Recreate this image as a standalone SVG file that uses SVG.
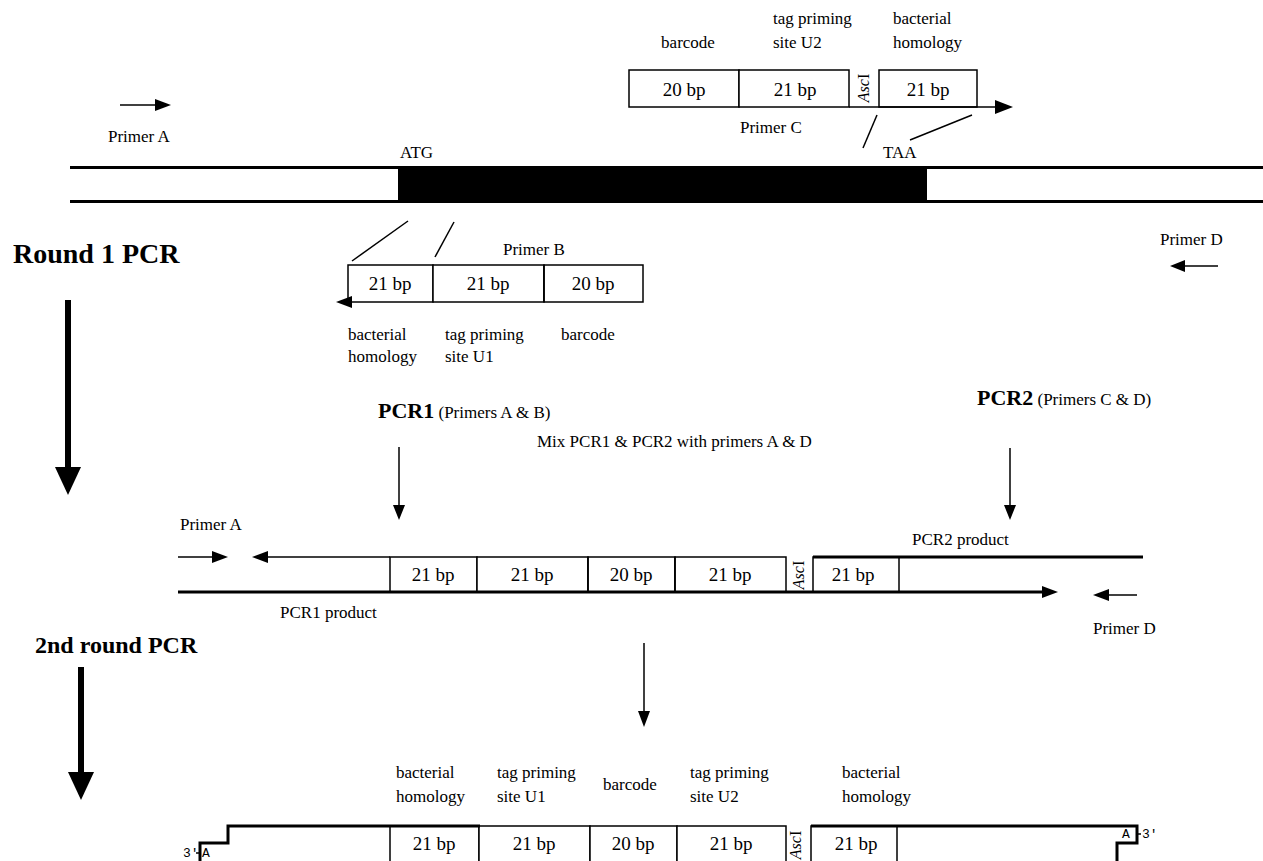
<svg xmlns="http://www.w3.org/2000/svg" width="1263" height="861" viewBox="0 0 1263 861">
<style>
text{font-family:"Liberation Serif","Times New Roman",serif;fill:#000}
.t{font-size:17px}
.bp{font-size:19px;text-anchor:middle}
.h{font-size:28px;font-weight:bold}
.h2{font-size:24px;font-weight:bold}
.b{font-size:22px;font-weight:bold}
.asc{font-size:16px;text-anchor:middle}
.mono{font-family:"Liberation Mono","Courier New",monospace;font-size:13px}
.box{fill:#fff;stroke:#000;stroke-width:1.5}
.ln{stroke:#000;stroke-width:1.5;fill:none}
.thk{stroke:#000;stroke-width:3;fill:none}
.big{stroke:#000;stroke-width:6;fill:none}
.head{fill:#000}
</style>

<g id="genome">
<rect x="398" y="166" width="529" height="37" fill="#000"/>
<line class="thk" x1="70" y1="167.5" x2="1263" y2="167.5"/>
<line class="thk" x1="70" y1="201.5" x2="1263" y2="201.5"/>
<text class="t" x="400" y="158">ATG</text>
<text class="t" x="883" y="158">TAA</text>
</g>

<g id="primerA-top">
<line class="ln" x1="120" y1="105" x2="158" y2="105"/>
<polygon class="head" points="171,105 155,99 155,111"/>
<text class="t" x="108" y="142">Primer A</text>
</g>

<g id="primerC">
<text class="t" x="688" y="48" text-anchor="middle" font-size="18">barcode</text>
<text class="t" x="773" y="24" font-size="18">tag priming</text>
<text class="t" x="773" y="48" font-size="18">site U2</text>
<text class="t" x="893" y="24" font-size="18">bacterial</text>
<text class="t" x="893" y="48" font-size="18">homology</text>
<rect class="box" x="629" y="70" width="110" height="37"/>
<rect class="box" x="739" y="70" width="110" height="37"/>
<rect class="box" x="879" y="70" width="98" height="37"/>
<text class="bp" x="684" y="96">20 bp</text>
<text class="bp" x="795" y="96">21 bp</text>
<text class="bp" x="928" y="96">21 bp</text>
<text class="asc" transform="translate(869,88) rotate(-90)"><tspan font-style="italic">Asc</tspan>I</text>
<line class="ln" x1="849" y1="107" x2="998" y2="107"/>
<polygon class="head" points="1013,107 995,100 995,114"/>
<text class="t" x="740" y="133">Primer C</text>
<line class="ln" x1="877" y1="115" x2="863" y2="148"/>
<line class="ln" x1="972" y1="115" x2="910" y2="140"/>
</g>

<g id="primerD-top">
<text class="t" x="1160" y="245">Primer D</text>
<line class="ln" x1="1218" y1="266" x2="1182" y2="266"/>
<polygon class="head" points="1170,266 1185,260 1185,272"/>
</g>

<g id="round1">
<text class="h" x="13" y="263">Round 1 PCR</text>
<line class="big" x1="68" y1="300" x2="68" y2="470"/>
<polygon class="head" points="68,495 55,467 81,467"/>
</g>

<g id="primerB">
<line class="ln" x1="408" y1="221" x2="352" y2="261"/>
<line class="ln" x1="454" y1="222" x2="435" y2="257"/>
<text class="t" x="503" y="255">Primer B</text>
<rect class="box" x="348" y="265" width="85" height="37"/>
<rect class="box" x="433" y="265" width="111" height="37"/>
<rect class="box" x="544" y="265" width="99" height="37"/>
<line class="ln" x1="544" y1="265" x2="544" y2="302" stroke-width="2.5"/>
<polygon class="head" points="336,302 352,296 352,308"/>
<text class="bp" x="390" y="290">21 bp</text>
<text class="bp" x="488" y="290">21 bp</text>
<text class="bp" x="593" y="290">20 bp</text>
<text class="t" x="348" y="340">bacterial</text>
<text class="t" x="348" y="362">homology</text>
<text class="t" x="445" y="340">tag priming</text>
<text class="t" x="445" y="362">site U1</text>
<text class="t" x="561" y="340">barcode</text>
</g>

<g id="pcr-labels">
<text x="378" y="418"><tspan class="b">PCR1</tspan><tspan class="t"> (Primers A &amp; B)</tspan></text>
<text x="977" y="405"><tspan class="b">PCR2</tspan><tspan class="t"> (Primers C &amp; D)</tspan></text>
<text class="t" x="537" y="447">Mix PCR1 &amp; PCR2 with primers A &amp; D</text>
</g>

<g id="connectors">
<line class="ln" x1="399" y1="447" x2="399" y2="508"/>
<polygon class="head" points="399,520 393,505 405,505"/>
<line class="ln" x1="1010" y1="448" x2="1010" y2="508"/>
<polygon class="head" points="1010,520 1004,505 1016,505"/>
<line class="ln" x1="644" y1="643" x2="644" y2="712"/>
<polygon class="head" points="644,727 638,711 650,711"/>
</g>

<g id="mix-products">
<text class="t" x="180" y="530">Primer A</text>
<line class="ln" x1="178" y1="557" x2="214" y2="557"/>
<polygon class="head" points="228,557 212,551 212,563"/>
<line class="ln" x1="265" y1="557" x2="390" y2="557"/>
<polygon class="head" points="252,557 268,551 268,563"/>
<rect class="box" x="390" y="557" width="87" height="35"/>
<rect class="box" x="477" y="557" width="111" height="35"/>
<rect class="box" x="588" y="557" width="87" height="35"/>
<rect class="box" x="675" y="557" width="111" height="35"/>
<rect class="box" x="813" y="557" width="86" height="35"/>
<line class="ln" x1="588" y1="557" x2="588" y2="592" stroke-width="2.5"/>
<line class="ln" x1="675" y1="557" x2="675" y2="592" stroke-width="2.5"/>
<text class="bp" x="433" y="581">21 bp</text>
<text class="bp" x="532" y="581">21 bp</text>
<text class="bp" x="631" y="581">20 bp</text>
<text class="bp" x="730" y="581">21 bp</text>
<text class="bp" x="853" y="581">21 bp</text>
<text class="asc" transform="translate(804,575) rotate(-90)"><tspan font-style="italic">Asc</tspan>I</text>
<line class="thk" x1="813" y1="557" x2="1143" y2="557"/>
<text class="t" x="912" y="545">PCR2 product</text>
<line class="thk" x1="178" y1="592" x2="1044" y2="592"/>
<polygon class="head" points="1058,592 1042,586 1042,598"/>
<line class="ln" x1="1137" y1="595" x2="1106" y2="595"/>
<polygon class="head" points="1093,595 1109,589 1109,601"/>
<text class="t" x="1093" y="634">Primer D</text>
<text class="t" x="280" y="618">PCR1 product</text>
</g>

<g id="round2">
<text class="h2" x="35" y="653">2nd round PCR</text>
<line class="big" x1="81" y1="667" x2="81" y2="775"/>
<polygon class="head" points="81,800 68,772 94,772"/>
</g>

<g id="final-product">
<text class="t" x="396" y="778">bacterial</text>
<text class="t" x="396" y="802">homology</text>
<text class="t" x="497" y="778">tag priming</text>
<text class="t" x="497" y="802">site U1</text>
<text class="t" x="603" y="790">barcode</text>
<text class="t" x="690" y="778">tag priming</text>
<text class="t" x="690" y="802">site U2</text>
<text class="t" x="842" y="778">bacterial</text>
<text class="t" x="842" y="802">homology</text>
<rect class="box" x="390" y="826" width="89" height="45"/>
<rect class="box" x="479" y="826" width="111" height="45"/>
<rect class="box" x="590" y="826" width="87" height="45"/>
<rect class="box" x="677" y="826" width="109" height="45"/>
<rect class="box" x="811" y="826" width="86" height="45"/>
<text class="bp" x="434" y="850">21 bp</text>
<text class="bp" x="534" y="850">21 bp</text>
<text class="bp" x="633" y="850">20 bp</text>
<text class="bp" x="731" y="850">21 bp</text>
<text class="bp" x="856" y="850">21 bp</text>
<text class="asc" transform="translate(801,845) rotate(-90)"><tspan font-style="italic">Asc</tspan>I</text>
<path class="thk" d="M480,826 H228 V843 H200 V870"/>
<path class="thk" d="M811,826 H1137 V843 H1117 V870"/>
<text class="mono" x="183" y="857">3′</text>
<line class="ln" x1="196" y1="853" x2="200" y2="853"/>
<text class="mono" x="202" y="857">A</text>
<text class="mono" x="1122" y="838">A</text>
<line class="ln" x1="1137" y1="834" x2="1141" y2="834"/>
<text class="mono" x="1142" y="838">3′</text>
</g>
</svg>
